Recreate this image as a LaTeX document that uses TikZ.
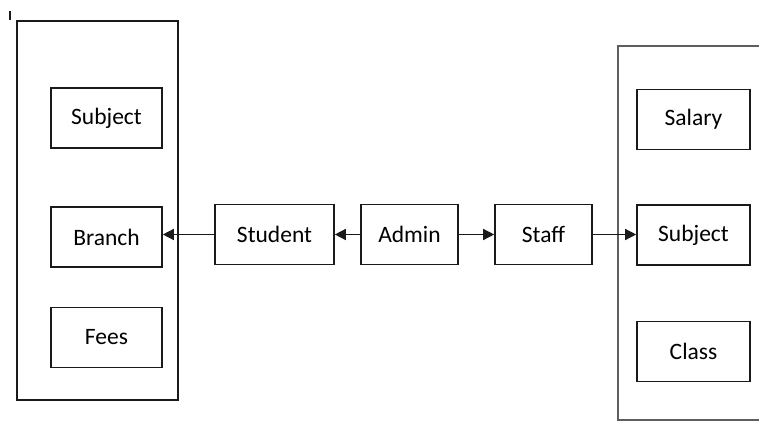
\documentclass[tikz,border=0pt]{standalone}
\usepackage{fontspec}
\setmainfont{Carlito}
\usetikzlibrary{arrows.meta,positioning}
\definecolor{Ink}{HTML}{1A1A1A}
\definecolor{Rim}{HTML}{5E5E5E}
\newcommand{\BoxAt}[4]{%
  \node[item,minimum width=#4] (#1) at #2 {#3};%
}

\begin{document}
\begin{tikzpicture}[x=1pt,y=-1pt,
  item/.style={draw=Ink,line width=1.6pt,minimum height=60pt,inner sep=0pt,
    font=\fontsize{23.5}{26}\selectfont},
  link/.style={draw=Ink,line width=1.4pt,-{Triangle[length=11pt,width=11pt]}}]
\useasboundingbox (0,0) rectangle (759,422);
\draw[Ink,line width=1.2pt] (10,11) -- (10,20);
% left group
\draw[Ink,line width=1.6pt] (17,21) rectangle (178,400);
\BoxAt{lsubject}{(106.5,118)}{Subject}{111pt}
\BoxAt{branch}{(106.5,237)}{Branch}{111pt}
\BoxAt{fees}{(106.5,337.5)}{Fees}{111pt}
% right group, runs off the page
\draw[Rim,line width=1.6pt] (759,46) -- (618,46) -- (618,420) -- (759,420);
\BoxAt{salary}{(693.5,119.5)}{Salary}{113pt}
\BoxAt{rsubject}{(693.5,235)}{Subject}{113pt}
\BoxAt{class}{(693.5,351.5)}{Class}{113pt}
% middle row
\BoxAt{student}{(274.5,234.5)}{Student}{119pt}
\BoxAt{admin}{(409.5,234.5)}{Admin}{97pt}
\BoxAt{staff}{(543.5,234.5)}{Staff}{97pt}
\draw[link] (student.west) -- (student.west -| branch.east);
\draw[link] (admin.west) -- (student.east);
\draw[link] (admin.east) -- (staff.west);
\draw[link] (staff.east) -- (staff.east -| rsubject.west);
\end{tikzpicture}
\end{document}
